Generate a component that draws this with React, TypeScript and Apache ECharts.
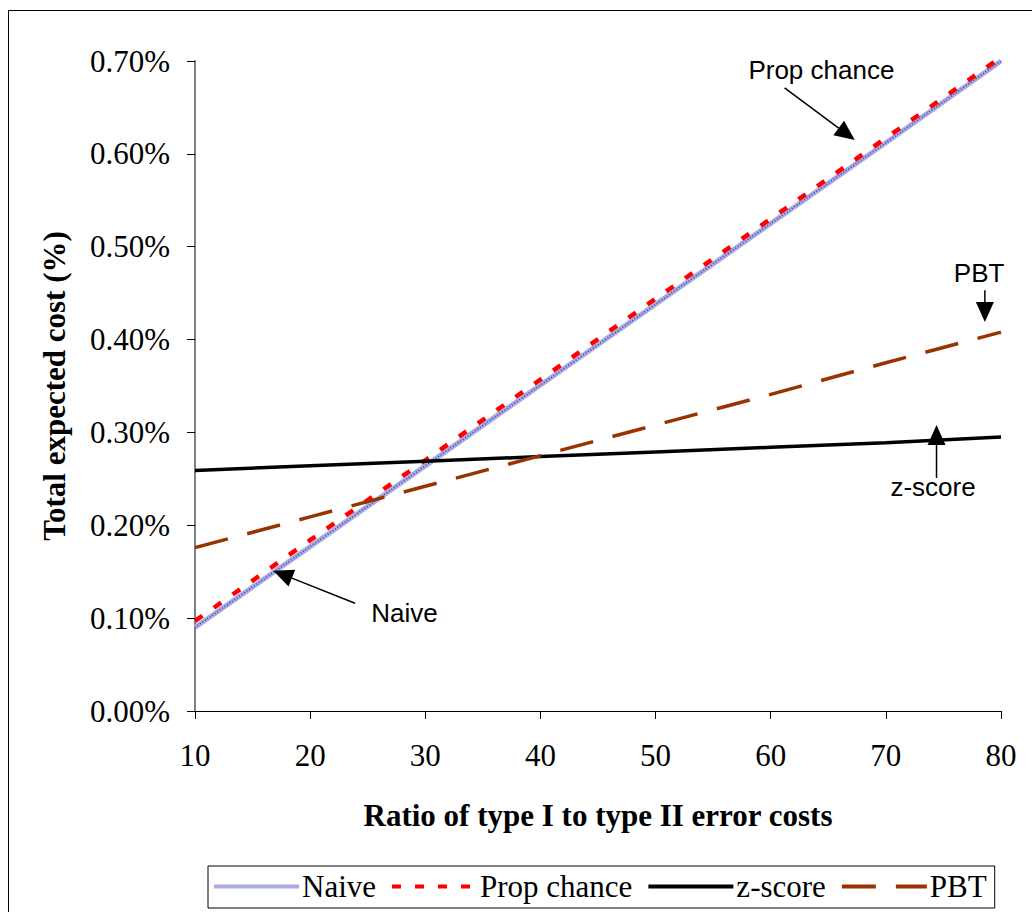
import React, { useEffect, useRef } from "react";
import * as echarts from "echarts";

const xValues = [10, 20, 30, 40, 50, 60, 70, 80];
const naive = [0.09, 0.177, 0.264, 0.351, 0.438, 0.525, 0.612, 0.7];
const propChance = [0.097, 0.184, 0.27, 0.357, 0.444, 0.53, 0.617, 0.704];
const zScore = [0.259, 0.264, 0.269, 0.274, 0.279, 0.284, 0.289, 0.295];
const pbt = [0.176, 0.209, 0.242, 0.275, 0.308, 0.341, 0.375, 0.408];

// annotations in data coordinates: text position, arrow tail, arrow head
const annotations = [
  { label: "Prop chance", text: [64.4, 0.69], tail: [61.2, 0.671], head: [67.3, 0.615] },
  { label: "PBT", text: [78.1, 0.472], tail: [78.6, 0.453], head: [78.6, 0.419] },
  { label: "z-score", text: [74.1, 0.241], tail: [74.4, 0.251], head: [74.4, 0.308] },
  { label: "Naive", text: [28.2, 0.1055], tail: [23.9, 0.116], head: [16.8, 0.151] },
];

const pairs = (ys: number[]) => xValues.map((x, i) => [x, ys[i]]);

export default function App() {
  const ref = useRef<HTMLDivElement>(null);
  useEffect(() => {
    const chart = echarts.init(ref.current!, null, { renderer: "svg" });
    const serif = "Liberation Serif, Times New Roman, serif";
    chart.setOption({
      animation: false,
      backgroundColor: "#fff",
      grid: { left: 195, top: 61, right: 31, bottom: 201 },
      xAxis: {
        type: "value",
        min: 10,
        max: 80,
        interval: 10,
        name: "Ratio of type I to type II error costs",
        nameLocation: "middle",
        nameGap: 89,
        nameTextStyle: { fontFamily: serif, fontSize: 31, fontWeight: "bold", color: "#000" },
        axisLine: { lineStyle: { color: "#000", width: 1 } },
        axisTick: { inside: false, length: 8, lineStyle: { color: "#000" } },
        axisLabel: { fontFamily: serif, fontSize: 31, color: "#000", margin: 29 },
        splitLine: { show: false },
      },
      yAxis: {
        type: "value",
        min: 0,
        max: 0.7,
        interval: 0.1,
        name: "Total expected cost (%)",
        nameLocation: "middle",
        nameGap: 125,
        nameTextStyle: { fontFamily: serif, fontSize: 31, fontWeight: "bold", color: "#000" },
        axisLine: { show: true, lineStyle: { color: "#808080", width: 2 } },
        axisTick: { show: true, inside: false, length: 8, lineStyle: { color: "#000" } },
        axisLabel: {
          fontFamily: serif,
          fontSize: 31,
          color: "#000",
          margin: 25,
          formatter: (v: number) => v.toFixed(2) + "%",
        },
        splitLine: { show: false },
      },
      legend: {
        left: 208,
        top: 866,
        padding: [5, 8, 6, 4],
        borderColor: "#000",
        borderWidth: 1,
        itemWidth: 85,
        itemHeight: 14,
        itemGap: 14,
        itemStyle: { opacity: 0 },
        lineStyle: { width: 4 },
        data: ["Naive", "Prop chance", "z-score", "PBT"],
        textStyle: { fontFamily: serif, fontSize: 31, color: "#000", padding: [0, 0, 0, -2] },
      },
      series: [
        {
          name: "Naive",
          type: "line",
          data: pairs(naive),
          symbol: "none",
          lineStyle: { color: "#a9abe2", width: 5 },
          itemStyle: { color: "#a9abe2" },
          z: 2,
        },
        {
          name: "naive-texture",
          type: "line",
          data: pairs(naive),
          symbol: "none",
          lineStyle: { color: "#3a3aa8", width: 1.5, type: [1, 2] },
          z: 3,
          silent: true,
        },
        {
          name: "Prop chance",
          type: "line",
          data: pairs(propChance),
          symbol: "none",
          lineStyle: { color: "#ff0000", width: 4.5, type: [9, 14] },
          itemStyle: { color: "#ff0000" },
          z: 4,
        },
        {
          name: "z-score",
          type: "line",
          data: pairs(zScore),
          symbol: "none",
          lineStyle: { color: "#000", width: 3.5 },
          itemStyle: { color: "#000" },
          z: 4,
        },
        {
          name: "PBT",
          type: "line",
          data: pairs(pbt),
          symbol: "none",
          lineStyle: { color: "#993300", width: 3.5, type: [34, 20] },
          itemStyle: { color: "#993300" },
          z: 4,
        },
      ],
    });

    const px = (p: number[]) => chart.convertToPixel({ gridIndex: 0 }, p) as number[];
    const graphics: any[] = [
      {
        type: "rect",
        shape: { x: 8.5, y: 10.5, width: 1100, height: 1000 },
        style: { fill: "none", stroke: "#000", lineWidth: 1 },
        z: 0,
        silent: true,
      },
    ];
    annotations.forEach((a) => {
      const t = px(a.text);
      const tail = px(a.tail);
      const head = px(a.head);
      const dx = head[0] - tail[0];
      const dy = head[1] - tail[1];
      const len = Math.sqrt(dx * dx + dy * dy);
      const ux = dx / len;
      const uy = dy / len;
      const hl = 20;
      const hw = 9;
      const bx = head[0] - ux * hl;
      const by = head[1] - uy * hl;
      graphics.push({
        type: "text",
        x: t[0],
        y: t[1],
        style: {
          text: a.label,
          fontFamily: "Liberation Sans, Arial, sans-serif",
          fontSize: 26,
          fill: "#000",
          align: "center",
          verticalAlign: "middle",
        },
        z: 10,
      });
      graphics.push({
        type: "line",
        shape: { x1: tail[0], y1: tail[1], x2: bx, y2: by },
        style: { stroke: "#000", lineWidth: 1.5 },
        z: 10,
      });
      graphics.push({
        type: "polygon",
        shape: {
          points: [
            [head[0], head[1]],
            [bx - uy * hw, by + ux * hw],
            [bx + uy * hw, by - ux * hw],
          ],
        },
        style: { fill: "#000" },
        z: 10,
      });
    });
    chart.setOption({ graphic: graphics });
    return () => chart.dispose();
  }, []);
  return (
    <>
      <style>{"body{margin:0;overflow:hidden}"}</style>
      <div ref={ref} style={{ width: 1032, height: 912 }} />
    </>
  );
}
